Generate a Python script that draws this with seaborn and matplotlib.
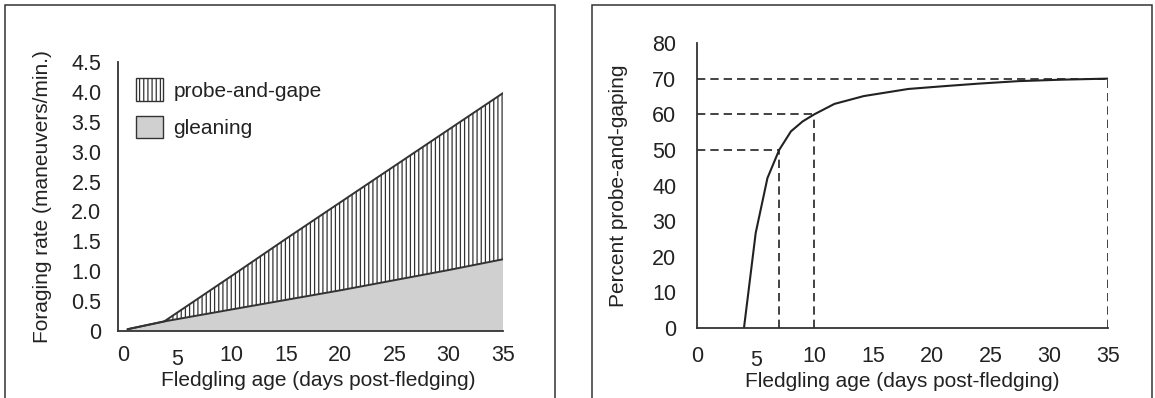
import matplotlib
matplotlib.use("Agg")
import matplotlib.pyplot as plt
import matplotlib.transforms as mtransforms
from matplotlib.patches import Patch, Rectangle
import numpy as np
import pandas as pd
import seaborn as sns

# Foraging rate by maneuver type (maneuvers/min.)
age_rate = [0.43, 3.8, 10, 15, 20, 25, 30, 35]
total_rate = [0.03, 0.16, 0.92, 1.54, 2.15, 2.76, 3.37, 3.98]
gleaning_rate = [0.03, 0.16, 0.36, 0.52, 0.68, 0.85, 1.02, 1.20]

# Percent of maneuvers that are probe-and-gape
age_pct = [4.0, 5.0, 6.0, 7.0, 8.0, 9.0, 10.0, 11.7, 14.2, 18.0, 21.1, 24.0, 27.4, 31.0, 35.0]
pct_probe = [0, 26.7, 42.1, 50.0, 55.2, 58.0, 60.0, 62.9, 65.1, 67.1, 67.9, 68.6, 69.3, 69.7, 70.0]

# Reference levels marked with dashed guides: (age, percent)
guide_points = [(7, 50), (10, 60), (35, 70)]

x_ticks = [0, 5, 10, 15, 20, 25, 30, 35]
rate_ticks = [0, 0.5, 1.0, 1.5, 2.0, 2.5, 3.0, 3.5, 4.0, 4.5]
rate_labels = ["0", "0.5", "1.0", "1.5", "2.0", "2.5", "3.0", "3.5", "4.0", "4.5"]
pct_ticks = [0, 10, 20, 30, 40, 50, 60, 70, 80]

sns.set_theme(style="white")
plt.rcParams["font.family"] = ["Liberation Sans", "DejaVu Sans"]
plt.rcParams["hatch.linewidth"] = 0.9
text_color = "#222222"
plt.rcParams["text.color"] = text_color
plt.rcParams["axes.labelcolor"] = text_color
plt.rcParams["xtick.color"] = text_color
plt.rcParams["ytick.color"] = text_color

W, H = 1155, 398
fig = plt.figure(figsize=(W / 100, H / 100), dpi=100)

# Panel frames
for x0, x1 in [(5, 555), (592, 1152)]:
    fig.patches.append(Rectangle((x0 / W, -0.1), (x1 - x0) / W, 1.1 - 5 / H,
                                 transform=fig.transFigure, fill=False,
                                 edgecolor="#333333", linewidth=1.1))

ax1 = fig.add_axes([118 / W, (H - 331) / H, (503 - 118) / W, (331 - 62) / H])
ax2 = fig.add_axes([697 / W, (H - 328) / H, (1108 - 697) / W, (328 - 43) / H])

fs = 15
tfs = 15.5

# ---- Left panel: stacked foraging rate ----
rate_df = pd.DataFrame({"age": age_rate, "total": total_rate, "gleaning": gleaning_rate})
ax1.fill_between(rate_df["age"], 0, rate_df["gleaning"], facecolor="#d0d0d0",
                 edgecolor="none", linewidth=0)
ax1.fill_between(rate_df["age"], rate_df["gleaning"], rate_df["total"], facecolor="white",
                 hatch="||||", edgecolor="#333333", linewidth=0)
sns.lineplot(data=rate_df, x="age", y="total", ax=ax1, color="#333333", linewidth=1.4,
             estimator=None, sort=False)
sns.lineplot(data=rate_df, x="age", y="gleaning", ax=ax1, color="#333333", linewidth=1.4,
             estimator=None, sort=False)
ax1.set_xlim(-0.45, 35)
ax1.set_ylim(0, 4.5)
ax1.set_yticks(rate_ticks)
ax1.set_yticklabels(rate_labels)
ax1.set_ylabel("Foraging rate (maneuvers/min.)", fontsize=fs, labelpad=14)

handles = [Patch(facecolor="white", edgecolor="#333333", hatch="||||", linewidth=1.0,
                 label="probe-and-gape"),
           Patch(facecolor="#d0d0d0", edgecolor="#333333", linewidth=1.0, label="gleaning")]
ax1.legend(handles=handles, loc="upper left", bbox_to_anchor=(0.025, 0.97), frameon=False,
           fontsize=fs, handlelength=1.3, handleheight=1.3, labelspacing=0.7,
           handletextpad=0.5, borderaxespad=0)

# ---- Right panel: percent probe-and-gape ----
pct_df = pd.DataFrame({"age": age_pct, "pct": pct_probe})
for gx, gy in guide_points:
    ax2.plot([0, gx], [gy, gy], linestyle=(0, (5, 3)), color="#222222", linewidth=1.2)
    ax2.plot([gx, gx], [0, gy], linestyle=(0, (5, 3)), color="#222222", linewidth=1.2)
sns.lineplot(data=pct_df, x="age", y="pct", ax=ax2, color="#222222", linewidth=1.5,
             estimator=None, sort=False)
ax2.set_xlim(0, 35)
ax2.set_ylim(0, 80)
ax2.set_yticks(pct_ticks)
ax2.set_yticklabels([str(t) for t in pct_ticks])
ax2.set_ylabel("Percent probe-and-gaping", fontsize=fs, labelpad=17)

for ax, ypad, xpad in [(ax1, 12, 10), (ax2, 15, 13)]:
    ax.set_xticks(x_ticks)
    ax.set_xticklabels([str(t) for t in x_ticks])
    ax.set_xlabel("Fledgling age (days post-fledging)", fontsize=fs, labelpad=1)
    ax.tick_params(axis="both", length=0, labelsize=tfs)
    ax.tick_params(axis="y", pad=ypad)
    ax.tick_params(axis="x", pad=xpad)
    for side in ["top", "right"]:
        ax.spines[side].set_visible(False)
    for side in ["left", "bottom"]:
        ax.spines[side].set_color("#333333")
        ax.spines[side].set_linewidth(1.3)
    ax.set_facecolor("none")
    # the "5" label sits slightly lower than its neighbours
    lbl = ax.get_xticklabels()[1]
    lbl.set_transform(lbl.get_transform() +
                      mtransforms.ScaledTranslation(0, -4 / 100, fig.dpi_scale_trans))

# the left x-axis title sits a little right of the axis centre
ax1.xaxis.set_label_coords(0.52, -0.148)

fig.savefig("out.png", dpi=100)
